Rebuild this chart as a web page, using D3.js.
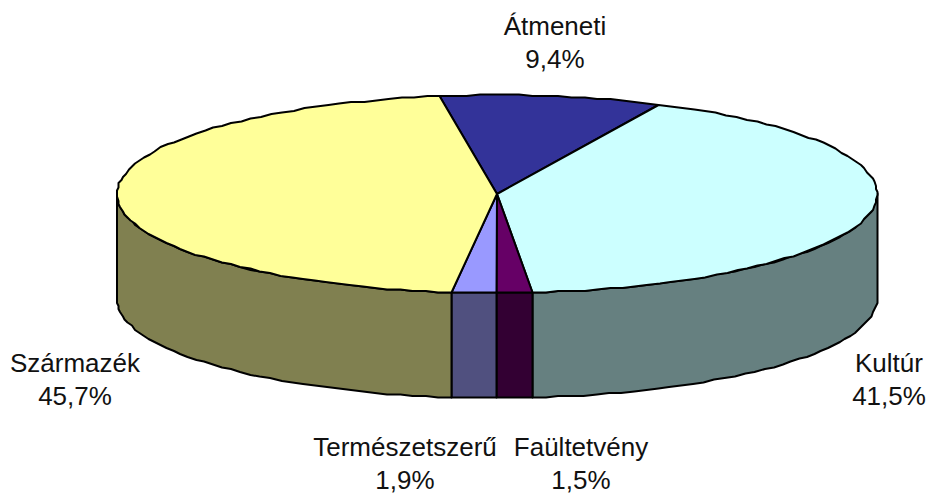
<!DOCTYPE html>
<html><head><meta charset="utf-8">
<script src="https://cdn.jsdelivr.net/npm/d3@7"></script>
<style>html,body{margin:0;padding:0;background:#fff}svg{display:block}
text{font-family:"Liberation Sans",Arial,sans-serif;font-size:26px;fill:#111;text-anchor:middle}</style>
</head><body><svg id="c" width="928" height="495"></svg>
<script>
const categories = ["Átmeneti","Kultúr","Faültetvény","Természetszerű","Származék"];
const values = [9.4,41.5,1.5,1.9,45.7];
const valueLabels = ["9,4%","41,5%","1,5%","1,9%","45,7%"];
const topColors = ["#333399","#CCFFFF","#660066","#9999FF","#FFFF99"];
const wallColors = ["#1f1f5c","#668080","#330033","#50507F","#808050"];
const labelX = [555,889,581,405,75];
const labelY = [35,372,456,456,372];

const W=928,H=495,cx=497,cy=194,rx=380,ry=99,depth=105;
const svg=d3.select("#c");
const startA=-8.6*Math.PI/180;
const arcs=d3.pie().sort(null).startAngle(startA).endAngle(startA+2*Math.PI)(values);
const px=a=>cx+rx*Math.sin(a), py=a=>cy-ry*Math.cos(a);
const line=d3.line();
const grid=v=>Math.round(v/1.5)*1.5;
const sample=(a,b,dy=0)=>{const n=Math.max(2,Math.ceil(Math.abs(b-a)/0.035));
  return d3.range(n+1).map(i=>{const t=a+(b-a)*i/n;return [grid(px(t)),grid(py(t))+dy];});};

// side walls: only the front half (90° to 270°) is visible
const front=arcs.map((d,i)=>({i,a:Math.max(d.startAngle,Math.PI/2),b:Math.min(d.endAngle,3*Math.PI/2)})).filter(d=>d.b>d.a);
svg.append("g").selectAll("path").data(front).join("path")
  .attr("d",d=>line([...sample(d.a,d.b),...sample(d.b,d.a,depth)])+"Z")
  .attr("fill",d=>wallColors[d.i]).attr("stroke","#000").attr("stroke-width",2).attr("stroke-linejoin","round");

// top faces
svg.append("g").selectAll("path").data(arcs).join("path")
  .attr("d",d=>line([[cx,cy],...sample(d.startAngle,d.endAngle)])+"Z")
  .attr("fill",(d,i)=>topColors[i]).attr("stroke","#000").attr("stroke-width",2).attr("stroke-linejoin","round");

// labels
const g=svg.append("g");
categories.forEach((c,i)=>{
  g.append("text").attr("x",labelX[i]).attr("y",labelY[i]).text(c);
  g.append("text").attr("x",labelX[i]).attr("y",labelY[i]+33).text(valueLabels[i]);
});
</script></body></html>
